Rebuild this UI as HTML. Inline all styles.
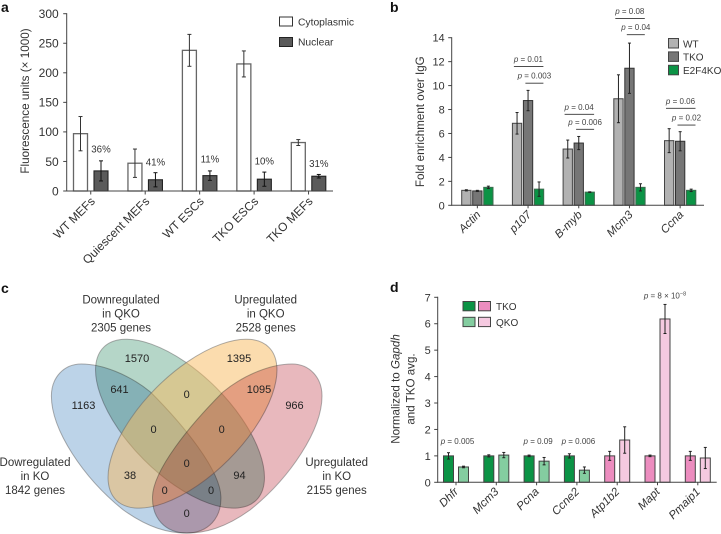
<!DOCTYPE html>
<html lang="en">
<head>
<meta charset="utf-8">
<title>Four panel figure</title>
<style>
  html, body { margin: 0; padding: 0; background: #fff; }
  svg { display: block; font-family: "Liberation Sans", Arial, sans-serif; fill: #333; }
  text { fill: #333; }
  .panel-letter { font-weight: bold; font-size: 14px; fill: #111; }
  .venn-label { font-size: 11.5px; text-anchor: middle; }
  .venn-num { font-size: 11px; text-anchor: middle; fill: #222; }
  .venn-shape { stroke: #6b6b6b; stroke-opacity: .55; stroke-width: 1; }
  .venn-alpha { fill-opacity: .5; }
  .venn-multiply { mix-blend-mode: multiply; }
</style>
</head>
<body>
<svg id="fig" xmlns="http://www.w3.org/2000/svg" width="721" height="534" viewBox="0 0 721 534">
  <rect x="0" y="0" width="721" height="534" fill="#fff"/>
  <text class="panel-letter" x="1" y="12">a</text>
  <text class="panel-letter" x="390" y="12">b</text>
  <text class="panel-letter" x="1" y="293">c</text>
  <text class="panel-letter" x="390" y="292">d</text>

  <g id="panelA"></g>
  <g id="panelB"></g>
  <g id="panelD"></g>

  <g id="panelC">
    <path class="venn-shape" d="M 81.4 364 C 63.4 364, 51.4 378, 51.4 396 C 51.4 430, 83.4 478, 123.4 510 C 148.4 528, 168.4 533, 186.4 533 C 208.4 533, 221.4 518, 220.9 497 C 220.4 470, 183.4 425, 150.4 392 C 128.4 374, 101.4 364, 81.4 364 Z" fill="#bcd3e8"/>
    <ellipse class="venn-shape venn-multiply" cx="180" cy="423.7" rx="108" ry="51" transform="rotate(45 180 423.7)" fill="#b5d6c8"/>
    <ellipse class="venn-shape venn-alpha" cx="192.5" cy="423.7" rx="108" ry="51" transform="rotate(-45 192.5 423.7)" fill="#f7b95d"/>
    <path class="venn-shape venn-multiply" d="M 292 364 C 310 364, 322 378, 322 396 C 322 430, 290 478, 250 510 C 225 528, 205 533, 187 533 C 165 533, 152 518, 152.5 497 C 153 470, 190 425, 223 392 C 245 374, 272 364, 292 364 Z" fill="#e8b8bd"/>

    <text class="venn-label"><tspan x="121" y="303.5">Downregulated</tspan><tspan x="121" y="317.5">in QKO</tspan><tspan x="121" y="331.5">2305 genes</tspan></text>
    <text class="venn-label"><tspan x="265.7" y="303.5">Upregulated</tspan><tspan x="265.7" y="317.5">in QKO</tspan><tspan x="265.7" y="331.5">2528 genes</tspan></text>
    <text class="venn-label"><tspan x="35" y="466">Dowregulated</tspan><tspan x="35" y="480">in KO</tspan><tspan x="35" y="494">1842 genes</tspan></text>
    <text class="venn-label"><tspan x="336.7" y="466">Upregulated</tspan><tspan x="336.7" y="480">in KO</tspan><tspan x="336.7" y="494">2155 genes</tspan></text>

    <text class="venn-num" x="137" y="362">1570</text>
    <text class="venn-num" x="239" y="362">1395</text>
    <text class="venn-num" x="119.5" y="393">641</text>
    <text class="venn-num" x="83.5" y="409">1163</text>
    <text class="venn-num" x="186.7" y="398">0</text>
    <text class="venn-num" x="259" y="393">1095</text>
    <text class="venn-num" x="294.5" y="409">966</text>
    <text class="venn-num" x="153.5" y="433">0</text>
    <text class="venn-num" x="221.7" y="433">0</text>
    <text class="venn-num" x="130" y="479">38</text>
    <text class="venn-num" x="186.7" y="467">0</text>
    <text class="venn-num" x="239.5" y="479">94</text>
    <text class="venn-num" x="164.7" y="494">0</text>
    <text class="venn-num" x="211" y="494">0</text>
    <text class="venn-num" x="186.7" y="517">0</text>
  </g>
</svg>

<script>
// ---------- Panel a data ----------
var aCategories = ['WT MEFs', 'Quiescent MEFs', 'WT ESCs', 'TKO ESCs', 'TKO MEFs'];
var aCytoplasmic = [97, 47, 238, 215, 82];
var aCytoplasmicErr = [29, 24, 27, 22, 5];
var aNuclear = [34, 19, 26, 20, 25];
var aNuclearErr = [17, 12, 8, 12, 3];
var aPercentLabels = ['36%', '41%', '11%', '10%', '31%'];
var aPercentLevels = [65, 43, 48, 45, 41];
var aTicks = [0, 50, 100, 150, 200, 250, 300];

// ---------- Panel b data ----------
var bCategories = ['Actin', 'p107', 'B-myb', 'Mcm3', 'Ccna'];
var bWT = [1.25, 6.85, 4.7, 8.9, 5.4];
var bWTErr = [0.05, 0.9, 0.75, 2.0, 1.0];
var bTKO = [1.2, 8.75, 5.2, 11.45, 5.35];
var bTKOErr = [0.05, 0.85, 0.55, 2.1, 0.8];
var bE2F4KO = [1.5, 1.35, 1.1, 1.5, 1.25];
var bE2F4KOErr = [0.1, 0.6, 0.03, 0.3, 0.1];
var bTicks = [0, 2, 4, 6, 8, 10, 12, 14];
var bPGroups = [1, 2, 3, 4];
var bPOuterLabels = ['0.01', '0.04', '0.08', '0.06'];
var bPOuterLevels = [11.6, 7.6, 15.6, 8.1];
var bPInnerLabels = ['0.003', '0.006', '0.04', '0.02'];
var bPInnerLevels = [10.2, 6.35, 14.25, 6.7];

// ---------- Panel d data ----------
var dCategories = ['Dhfr', 'Mcm3', 'Pcna', 'Ccne2', 'Atp1b2', 'Mapt', 'Pmaip1'];
var dTKO = [1, 1, 1, 1, 1, 1, 1];
var dTKOErr = [0.12, 0.04, 0.03, 0.08, 0.17, 0.03, 0.17];
var dQKO = [0.58, 1.03, 0.8, 0.46, 1.6, 6.18, 0.92];
var dQKOErr = [0.03, 0.1, 0.14, 0.12, 0.5, 0.55, 0.4];
var dFamilies = ['green', 'green', 'green', 'green', 'pink', 'pink', 'pink'];
var dTicks = [0, 1, 2, 3, 4, 5, 6, 7];
var dPLabels = ['0.005', '', '0.09', '0.006', '', '', ''];

// ---------- Helpers ----------
var NS = 'http://www.w3.org/2000/svg';
function mk(tag, attrs, parent) {
  var n = document.createElementNS(NS, tag);
  for (var k in attrs) n.setAttribute(k, attrs[k]);
  parent.appendChild(n);
  return n;
}
function slug(s) {
  return String(s).toLowerCase().replace(/[^a-z0-9]+/g, '-');
}
function line(parent, x1, y1, x2, y2, color, w) {
  return mk('line', { x1: x1, y1: y1, x2: x2, y2: y2, stroke: color, 'stroke-width': w }, parent);
}
function label(parent, x, y, str, size, anchor) {
  var t = mk('text', { x: x, y: y, 'font-size': size, 'text-anchor': anchor || 'start' }, parent);
  t.textContent = str;
  return t;
}
function pLabel(parent, cx, y, value, size) {
  var t = mk('text', { x: cx, y: y, 'font-size': size, 'text-anchor': 'middle', style: 'fill:#444' }, parent);
  var p = mk('tspan', { 'font-style': 'italic' }, t);
  p.textContent = 'p';
  var rest = mk('tspan', {}, t);
  rest.textContent = ' = ' + value;
  return t;
}
function errorBar(parent, cx, yHi, yLo, capHalf, color, w) {
  var g = mk('g', {}, parent);
  line(g, cx, yHi, cx, yLo, color, w);
  line(g, cx - capHalf, yHi, cx + capHalf, yHi, color, w);
  line(g, cx - capHalf, yLo, cx + capHalf, yLo, color, w);
  return g;
}
function bar(parent, x, top, w, base, fill, stroke, sw) {
  return mk('rect', { x: x, y: top, width: w, height: Math.max(0, base - top), fill: fill, stroke: stroke, 'stroke-width': sw }, parent);
}
function yAxis(parent, axisX, yFn, ticks, topValue, size, tickLen, labelGap) {
  var g = mk('g', {}, parent);
  
  
  line(g, axisX, yFn(0) + 0.5, axisX, yFn(topValue) - 0.5, '#444', 1);
  ticks.forEach(function (v) {
    line(g, axisX - tickLen, yFn(v), axisX, yFn(v), '#444', 1);
    var t = label(g, axisX - labelGap, yFn(v) + size * 0.36, v, size, 'end');
    
    
  });
  return g;
}
function rotatedLabel(parent, x, y, str, size, italic, name) {
  var t = label(parent, x, y, str, size, 'end');
  t.setAttribute('transform', 'rotate(-45 ' + x + ' ' + y + ')');
  if (italic) t.setAttribute('font-style', 'italic');
  
  
  return t;
}

// ---------- Panel a ----------
(function () {
  var root = document.getElementById('panelA');
  var y0 = 191, yTop = 13.7, axisX = 66.7, axisEnd = 333;
  function y(v) { return y0 - v * (y0 - yTop) / 300; }
  function gx(i) { return 73.5 + i * 54.45; }
  var barW = 14, nucOffset = 20.5;

  aCategories.forEach(function (cat, i) {
    var c = bar(root, gx(i), y(aCytoplasmic[i]), barW, y0, '#fff', '#666', 1.3);
    
    
    var ce = errorBar(root, gx(i) + barW / 2, y(aCytoplasmic[i] + aCytoplasmicErr[i]), y(aCytoplasmic[i] - aCytoplasmicErr[i]), 2, '#333', 1);
    
    
    var n = bar(root, gx(i) + nucOffset, y(aNuclear[i]), barW, y0, '#5a5a5a', '#222', 1.1);
    
    
    var ne = errorBar(root, gx(i) + nucOffset + barW / 2, y(aNuclear[i] + aNuclearErr[i]), y(aNuclear[i] - aNuclearErr[i]), 2, '#111', 1);
    
    
    var pct = label(root, gx(i) + nucOffset + barW / 2, y(aPercentLevels[i]), aPercentLabels[i], 9.7, 'middle');
    
    
    var cx = gx(i) + (nucOffset + barW) / 2;
    line(root, cx, y0, cx, y0 + 3.5, '#444', 1);
    rotatedLabel(root, cx + 5, y0 + 11, cat, 12, false, 'x-tick-label');
  });

  var ax = line(root, axisX, y0, axisEnd, y0, '#444', 1);
  
  
  yAxis(root, axisX, y, aTicks, 300, 12, 3.5, 8);

  var title = label(root, 29, 101, 'Fluorescence units (\u00d7 1000)', 11.7, 'middle');
  title.setAttribute('transform', 'rotate(-90 29 101)');
  
  

  var lg1 = mk('rect', { x: 279.5, y: 17, width: 13, height: 9, fill: '#fff', stroke: '#333', 'stroke-width': 1 }, root);
  
  
  var lt1 = label(root, 298, 25.5, 'Cytoplasmic', 10.3);
  
  
  var lg2 = mk('rect', { x: 279.5, y: 37.5, width: 13, height: 9, fill: '#5a5a5a', stroke: '#222', 'stroke-width': 1 }, root);
  
  
  var lt2 = label(root, 298, 45.5, 'Nuclear', 10.3);
  
  
})();

// ---------- Panel b ----------
(function () {
  var root = document.getElementById('panelB');
  var y0 = 205.3, yTop = 37.7, axisX = 451.7, axisEnd = 704;
  function y(v) { return y0 - v * (y0 - yTop) / 14; }
  function gx(i) { return 461.7 + i * 50.7; }
  var barW = 9.3, step = 11;
  var seriesNames = ['wt', 'tko', 'e2f4ko'];
  var seriesVals = [bWT, bTKO, bE2F4KO];
  var seriesErrs = [bWTErr, bTKOErr, bE2F4KOErr];
  var seriesFill = ['#b2b2b2', '#767676', '#0b9345'];
  var seriesStroke = ['#444', '#333', '#3d6b4f'];

  bCategories.forEach(function (cat, i) {
    seriesVals.forEach(function (vals, s) {
      var r = bar(root, gx(i) + s * step, y(vals[i]), barW, y0, seriesFill[s], seriesStroke[s], 1);
      
      
      var e = errorBar(root, gx(i) + s * step + barW / 2, y(vals[i] + seriesErrs[s][i]), y(vals[i] - seriesErrs[s][i]), 1.5, '#222', 1);
      
      
    });
    var cx = gx(i) + step + barW / 2;
    line(root, cx, y0, cx, y0 + 3, '#444', 1);
    rotatedLabel(root, cx + 4, y0 + 10, cat, 11.5, true, 'x-tick-label');
  });

  var ax = line(root, axisX, y0, axisEnd, y0, '#444', 1);
  
  
  yAxis(root, axisX, y, bTicks, 14, 11, 3.5, 7);

  var title = label(root, 424, 121.7, 'Fold enrichment over IgG', 11.6, 'middle');
  title.setAttribute('transform', 'rotate(-90 424 121.7)');
  
  

  bPGroups.forEach(function (g, k) {
    var left = gx(g);
    var o = line(root, left + 1.5, y(bPOuterLevels[k]), left + 31, y(bPOuterLevels[k]), '#333', 0.9);
    
    
    var ot = pLabel(root, left + 16, y(bPOuterLevels[k]) - 4.5, bPOuterLabels[k], 8);
    
    
    var n = line(root, left + 13, y(bPInnerLevels[k]), left + 31, y(bPInnerLevels[k]), '#333', 0.9);
    
    
    var nt = pLabel(root, left + 22, y(bPInnerLevels[k]) - 4.5, bPInnerLabels[k], 8);
    
    
  });

  var legendNames = ['WT', 'TKO', 'E2F4KO'];
  legendNames.forEach(function (nm, i) {
    var top = 38.5 + i * 13.4;
    var sw = mk('rect', { x: 668.5, y: top, width: 10, height: 9.5, fill: seriesFill[i], stroke: '#444', 'stroke-width': 1 }, root);
    
    
    var t = label(root, 683, top + 8.8, nm, 10);
    
    
  });
})();

// ---------- Panel d ----------
(function () {
  var root = document.getElementById('panelD');
  var y0 = 482.3, yTop = 297.3, axisX = 437.7, axisEnd = 716.7;
  function y(v) { return y0 - v * (y0 - yTop) / 7; }
  function gx(i) { return 443.5 + i * 40.3; }
  var barW = 10, step = 15;
  var fills = { green: ['#0b9345', '#84cda0'], pink: ['#ec8dbf', '#f5c9e0'] };

  dCategories.forEach(function (cat, i) {
    var pair = fills[dFamilies[i]];
    var a = bar(root, gx(i), y(dTKO[i]), barW, y0, pair[0], '#444', 1);
    
    
    var ae = errorBar(root, gx(i) + barW / 2, y(dTKO[i] + dTKOErr[i]), y(dTKO[i] - dTKOErr[i]), 1.5, '#222', 1);
    
    
    var b = bar(root, gx(i) + step, y(dQKO[i]), barW, y0, pair[1], '#444', 1);
    
    
    var be = errorBar(root, gx(i) + step + barW / 2, y(dQKO[i] + dQKOErr[i]), y(dQKO[i] - dQKOErr[i]), 1.5, '#222', 1);
    
    
    var cx = gx(i) + (step + barW) / 2;
    line(root, cx, y0, cx, y0 + 3, '#444', 1);
    rotatedLabel(root, cx + 3, y0 + 10, cat, 11.5, true, 'x-tick-label');
    if (dPLabels[i]) {
      var p = pLabel(root, cx + 1.5, 444, dPLabels[i], 8);
      
      
    }
  });

  var special = mk('text', { x: 665, y: 298.5, 'font-size': 8, 'text-anchor': 'middle', style: 'fill:#444' }, root);
  
  
  var sp = mk('tspan', { 'font-style': 'italic' }, special);
  sp.textContent = 'p';
  var sr = mk('tspan', {}, special);
  sr.textContent = ' = 8 \u00d7 10';
  var se = mk('tspan', { dy: -3, 'font-size': 5.5 }, special);
  se.textContent = '\u22128';

  var ax = line(root, axisX, y0, axisEnd, y0, '#444', 1);
  
  
  yAxis(root, axisX, y, dTicks, 7, 11, 3.5, 7);

  var t1 = mk('text', { x: 399.5, y: 389, 'font-size': 11.6, 'text-anchor': 'middle', transform: 'rotate(-90 399.5 389)' }, root);
  
  
  var t1a = mk('tspan', {}, t1);
  t1a.textContent = 'Normalized to ';
  var t1b = mk('tspan', { 'font-style': 'italic' }, t1);
  t1b.textContent = 'Gapdh';
  var t2 = label(root, 414.5, 389, 'and TKO avg.', 11.6, 'middle');
  t2.setAttribute('transform', 'rotate(-90 414.5 389)');
  
  

  var rowFills = [['#0b9345', '#ec8dbf'], ['#84cda0', '#f5c9e0']];
  var rowNames = ['TKO', 'QKO'];
  rowNames.forEach(function (nm, r) {
    var top = 301.5 + r * 15.8;
    var s1 = mk('rect', { x: 463, y: top, width: 12, height: 9.3, fill: rowFills[r][0], stroke: '#444', 'stroke-width': 1 }, root);
    
    
    var s2 = mk('rect', { x: 478.5, y: top, width: 12, height: 9.3, fill: rowFills[r][1], stroke: '#444', 'stroke-width': 1 }, root);
    
    
    var t = label(root, 496, top + 8.6, nm, 10);
    
    
  });
})();
</script>
</body>
</html>
